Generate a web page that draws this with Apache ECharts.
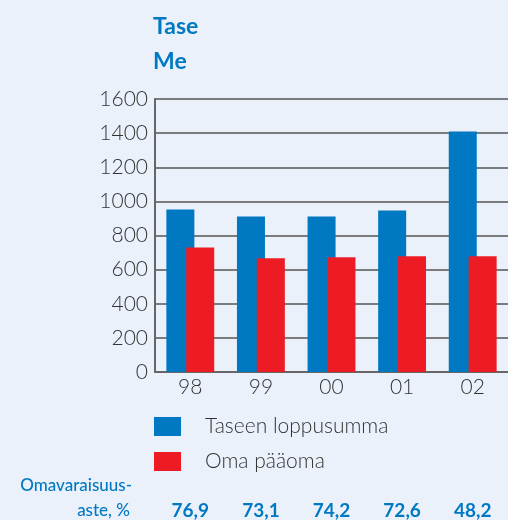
<!DOCTYPE html>
<html>
<head>
<meta charset="utf-8">
<script src="https://cdn.jsdelivr.net/npm/echarts@6/dist/echarts.min.js"></script>
<style>
  html, body { margin: 0; padding: 0; background: #eaf1fa; }
  #chart { width: 508px; height: 520px; }
</style>
</head>
<body>
<div id="chart"></div>
<script>
// vuodet
const years = ['98', '99', '00', '01', '02'];
// Taseen loppusumma, Me
const totalAssets = [953, 912, 912, 947, 1410];
// Oma pääoma, Me
const equity = [730, 666, 672, 678, 678];
// omavaraisuusaste, %
const equityRatio = ['76,9', '73,1', '74,2', '72,6', '48,2'];
const yTicks = [0, 1600, 200]; // min, max, interval

const blue = '#0079c2';
const red = '#ed1c24';
const font = 'Lato, "Open Sans", sans-serif';

const chart = echarts.init(document.getElementById('chart'));

const options = {
  backgroundColor: '#eaf1fa',
  animation: false,
  title: {
    text: 'Tase\nMe',
    left: 148,
    top: 4,
    textStyle: {
      color: blue,
      fontFamily: font,
      fontWeight: 'bold',
      fontSize: 23,
      lineHeight: 35
    }
  },
  legend: {
    orient: 'vertical',
    left: 149,
    top: 411,
    itemWidth: 27,
    itemHeight: 19,
    itemGap: 14,
    icon: 'rect',
    data: ['Taseen loppusumma', 'Oma pääoma'],
    textStyle: {
      color: '#333',
      fontFamily: font,
      fontWeight: 300,
      fontSize: 21,
      lineHeight: 20,
      padding: [0, 0, 0, 19]
    }
  },
  grid: {
    left: 155,
    top: 99,
    width: 355,
    bottom: 148
  },
  xAxis: [
    {
      type: 'category',
      data: years,
      axisLine: { lineStyle: { color: '#666', width: 2 } },
      axisTick: { show: false },
      axisLabel: {
        color: '#333',
        fontFamily: font,
        fontWeight: 300,
        fontSize: 21,
        margin: 5
      }
    },
    {
      type: 'category',
      position: 'bottom',
      offset: 121,
      data: equityRatio,
      axisLine: { show: false },
      axisTick: { show: false },
      axisLabel: {
        color: blue,
        fontFamily: font,
        fontWeight: 'bold',
        fontSize: 19,
        margin: 8
      }
    }
  ],
  yAxis: {
    type: 'value',
    min: yTicks[0],
    max: yTicks[1],
    interval: yTicks[2],
    axisLine: { show: true, lineStyle: { color: '#666', width: 2 } },
    axisTick: { show: false },
    splitLine: { lineStyle: { color: '#555', width: 1.5 } },
    axisLabel: {
      color: '#333',
      fontFamily: font,
      fontWeight: 300,
      fontSize: 21,
      margin: 7,
      formatter: v => String(v)
    }
  },
  series: [
    {
      name: 'Taseen loppusumma',
      type: 'bar',
      xAxisIndex: 0,
      barWidth: 28,
      barGap: '-29%',
      itemStyle: { color: blue },
      data: totalAssets
    },
    {
      name: 'Oma pääoma',
      type: 'bar',
      xAxisIndex: 0,
      barWidth: 28,
      barGap: '-29%',
      itemStyle: { color: red },
      data: equity
    }
  ],
  graphic: [
    {
      type: 'text',
      right: 376,
      top: 477,
      style: {
        text: 'Omavaraisuus-',
        fill: blue,
        font: '500 17px ' + font,
        textAlign: 'right'
      }
    },
    {
      type: 'text',
      right: 378,
      top: 502,
      style: {
        text: 'aste, %',
        fill: blue,
        font: '500 17px ' + font,
        textAlign: 'right'
      }
    }
  ]
};

chart.setOption(options);
</script>
</body>
</html>
